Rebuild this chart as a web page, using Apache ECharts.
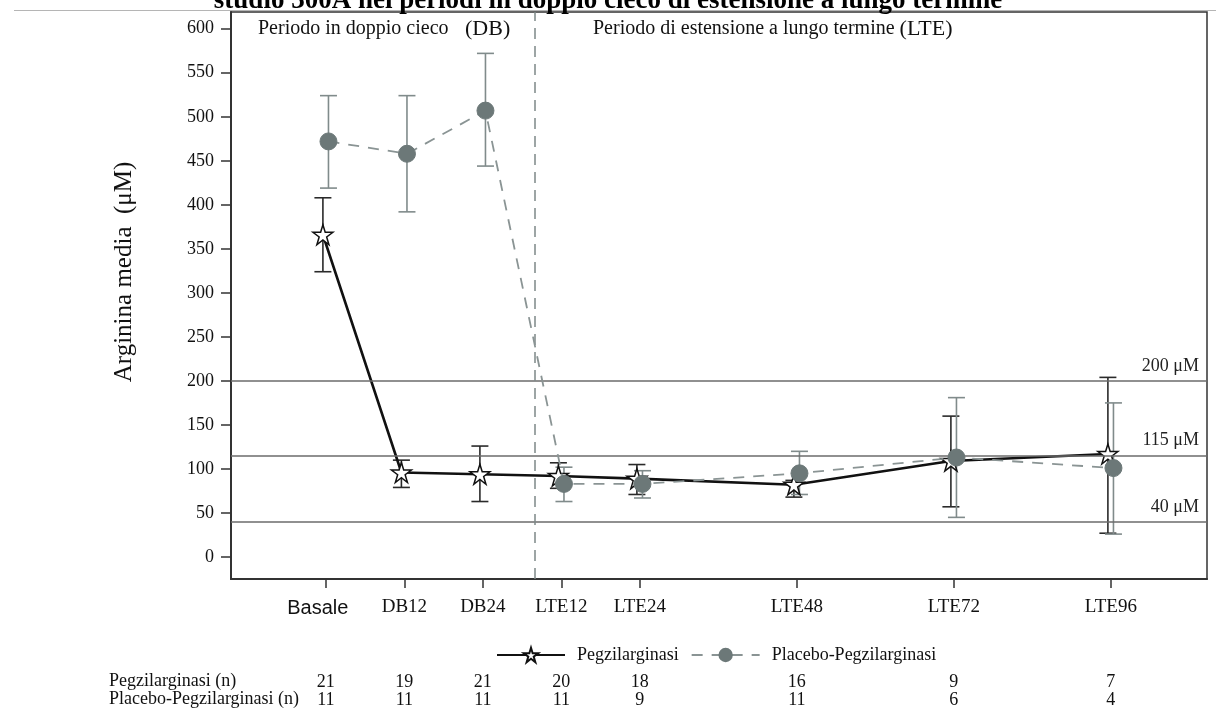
<!DOCTYPE html>
<html>
<head>
<meta charset="utf-8">
<title>Arginina media</title>
<script src="https://cdn.jsdelivr.net/npm/echarts@6/dist/echarts.min.js"></script>
<style>
  html, body { margin: 0; padding: 0; background: #fff; }
  #chart { width: 1216px; height: 709px; }
</style>
</head>
<body>
<div id="chart"></div>
<script>
// visit positions in weeks and their labels
const weeks = [0, 12, 24, 36, 48, 72, 96, 120]
const visits = ['Basale', 'DB12', 'DB24', 'LTE12', 'LTE24', 'LTE48', 'LTE72', 'LTE96']
const yTicks = [0, 50, 100, 150, 200, 250, 300, 350, 400, 450, 500, 550, 600]

// Pegzilarginasi: mean and error bar ends (uM)
const pegMean = [366, 96, 94, 92, 89, 82, 109, 117]
const pegLow = [324, 79, 63, 78, 71, 68, 57, 27]
const pegHigh = [408, 110, 126, 107, 105, 87, 160, 204]

// Placebo-Pegzilarginasi
const plaMean = [472, 458, 507, 83, 83, 95, 113, 101]
const plaLow = [419, 392, 444, 63, 67, 71, 45, 26]
const plaHigh = [524, 524, 572, 102, 98, 120, 181, 175]

// patients per visit
const pegN = [21, 19, 21, 20, 18, 16, 9, 7]
const plaN = [11, 11, 11, 11, 9, 11, 6, 4]

// reference levels and the DB / LTE split
const refLevels = [200, 115, 40]
const periodSplit = 32

const serif = 'Liberation Serif'
const pegColor = '#111'
const plaColor = '#6c7878'
const plaBarColor = '#808b8b'
const starPath = 'path://M50,2 L61,37 L98,37 L68,59 L79,95 L50,73 L21,95 L32,59 L2,37 L39,37 Z'

// small horizontal shift so the two groups do not overlap
const pegShift = -0.45
const plaShift = 0.4

var chart = echarts.init(document.getElementById('chart'))

function errorBars(name, low, high, color, shift) {
    return {
        type: 'custom',
        name: name + ' err',
        data: weeks.map((w, i) => [w + shift, low[i], high[i]]),
        encode: { x: 0, y: [1, 2] },
        silent: true,
        z: 2,
        renderItem: function (params, api) {
            var x = api.value(0)
            var lo = api.coord([x, api.value(1)])
            var hi = api.coord([x, api.value(2)])
            var half = 8.5
            var st = { stroke: color, lineWidth: 1.6 }
            return {
                type: 'group',
                children: [
                    { type: 'line', shape: { x1: hi[0], y1: hi[1], x2: lo[0], y2: lo[1] }, style: st },
                    { type: 'line', shape: { x1: hi[0] - half, y1: hi[1], x2: hi[0] + half, y2: hi[1] }, style: st },
                    { type: 'line', shape: { x1: lo[0] - half, y1: lo[1], x2: lo[0] + half, y2: lo[1] }, style: st }
                ]
            }
        }
    }
}

function countAxis(counts, offset) {
    return {
        type: 'value',
        position: 'bottom',
        min: -14.5,
        max: 134.7,
        offset: offset,
        axisLine: { show: false, onZero: false },
        axisTick: { show: false },
        splitLine: { show: false },
        axisLabel: {
            customValues: weeks,
            margin: 0,
            fontFamily: serif,
            fontSize: 18,
            color: '#111',
            formatter: (v) => String(counts[weeks.indexOf(v)])
        }
    }
}

var option = {
    animation: false,
    title: {
        text: 'studio 300A nei periodi in doppio cieco di estensione a lungo termine',
        left: 'center',
        top: -17,
        textStyle: { fontFamily: serif, fontWeight: 'bold', fontSize: 27, color: '#000' }
    },
    grid: {
        left: 231, right: 9, top: 12, bottom: 129,
        show: true, borderColor: '#333', borderWidth: 1.5
    },
    legend: {
        left: 491,
        top: 641,
        itemWidth: 68,
        itemHeight: 18,
        itemGap: 12,
        data: ['Pegzilarginasi', 'Placebo-Pegzilarginasi'],
        textStyle: { fontFamily: serif, fontSize: 18, color: '#111', padding: [0, 0, 0, 7] }
    },
    xAxis: [
        {
            type: 'value',
            min: -14.5,
            max: 134.7,
            axisLine: { onZero: false, lineStyle: { color: '#333', width: 2 } },
            axisTick: { customValues: weeks, length: 9, lineStyle: { color: '#333', width: 1.5 } },
            splitLine: { show: false },
            axisLabel: {
                customValues: weeks,
                margin: 19,
                fontFamily: serif,
                fontSize: 19,
                color: '#111',
                formatter: function (v) {
                    var i = weeks.indexOf(v)
                    return i === 0 ? '{s|' + visits[i] + '}' : visits[i]
                },
                rich: { s: { fontFamily: 'Liberation Sans', fontSize: 20, color: '#111', padding: [0, 16, 0, 0] } }
            }
        },
        countAxis(pegN, 94),
        countAxis(plaN, 112)
    ],
    yAxis: {
        type: 'value',
        min: -25,
        max: 619,
        axisLine: { show: true, onZero: false, lineStyle: { color: '#333', width: 2 } },
        axisTick: { show: true, customValues: yTicks, length: 10, lineStyle: { color: '#333', width: 1.5 } },
        splitLine: { show: false },
        axisLabel: {
            customValues: yTicks,
            margin: 17,
            fontFamily: serif,
            fontSize: 18,
            color: '#111'
        }
    },
    graphic: [
        { type: 'line', shape: { x1: 14, y1: 10.5, x2: 1216, y2: 10.5 }, style: { stroke: '#b5b5b5', lineWidth: 1.2 }, z: 0 },
        {
            type: 'text', left: 258, top: 18,
            style: {
                text: '{a|Periodo in doppio cieco}{b|   (DB)}',
                rich: {
                    a: { fontFamily: serif, fontSize: 20, fill: '#111' },
                    b: { fontFamily: serif, fontSize: 22, fill: '#111' }
                }
            }
        },
        {
            type: 'text', left: 593, top: 18,
            style: {
                text: '{a|Periodo di estensione a lungo termine }{b|(LTE)}',
                rich: {
                    a: { fontFamily: serif, fontSize: 20, fill: '#111' },
                    b: { fontFamily: serif, fontSize: 22, fill: '#111' }
                }
            }
        },
        { type: 'text', x: 124, y: 272, rotation: Math.PI / 2, style: { text: 'Arginina media  (μM)', font: '25px "Liberation Serif"', fill: '#111', align: 'center', verticalAlign: 'middle' } },
        { type: 'text', left: 109, top: 672, style: { text: 'Pegzilarginasi (n)', font: '18px "Liberation Serif"', fill: '#111' } },
        { type: 'text', left: 109, top: 690, style: { text: 'Placebo-Pegzilarginasi (n)', font: '18px "Liberation Serif"', fill: '#111' } }
    ],
    series: [
        {
            name: 'Pegzilarginasi',
            type: 'line',
            data: weeks.map((w, i) => [w + pegShift, pegMean[i]]),
            symbol: starPath,
            symbolSize: 20,
            z: 4,
            lineStyle: { color: pegColor, width: 2.6 },
            itemStyle: { color: '#fff', borderColor: pegColor, borderWidth: 1.5 },
            markLine: {
                silent: true,
                symbol: 'none',
                animation: false,
                data: refLevels.map(v => ({
                    yAxis: v,
                    lineStyle: { color: '#6b6b6b', width: 1.5, type: 'solid' },
                    label: {
                        show: true,
                        position: 'insideEndTop',
                        distance: [8, 6],
                        formatter: v + ' μM',
                        fontFamily: serif,
                        fontSize: 18,
                        color: '#222'
                    }
                })).concat([{
                    xAxis: periodSplit,
                    lineStyle: { color: '#7d8888', width: 1.5, type: [11, 7] },
                    label: { show: false }
                }])
            }
        },
        {
            name: 'Placebo-Pegzilarginasi',
            type: 'line',
            data: weeks.map((w, i) => [w + plaShift, plaMean[i]]),
            symbol: 'circle',
            symbolSize: 17,
            z: 5,
            lineStyle: { color: '#8a9494', width: 1.8, type: [11, 9] },
            itemStyle: { color: plaColor, borderColor: plaColor }
        },
        errorBars('Pegzilarginasi', pegLow, pegHigh, '#2a2a2a', pegShift),
        errorBars('Placebo-Pegzilarginasi', plaLow, plaHigh, plaBarColor, plaShift)
    ]
}

chart.setOption(option)
</script>
</body>
</html>
